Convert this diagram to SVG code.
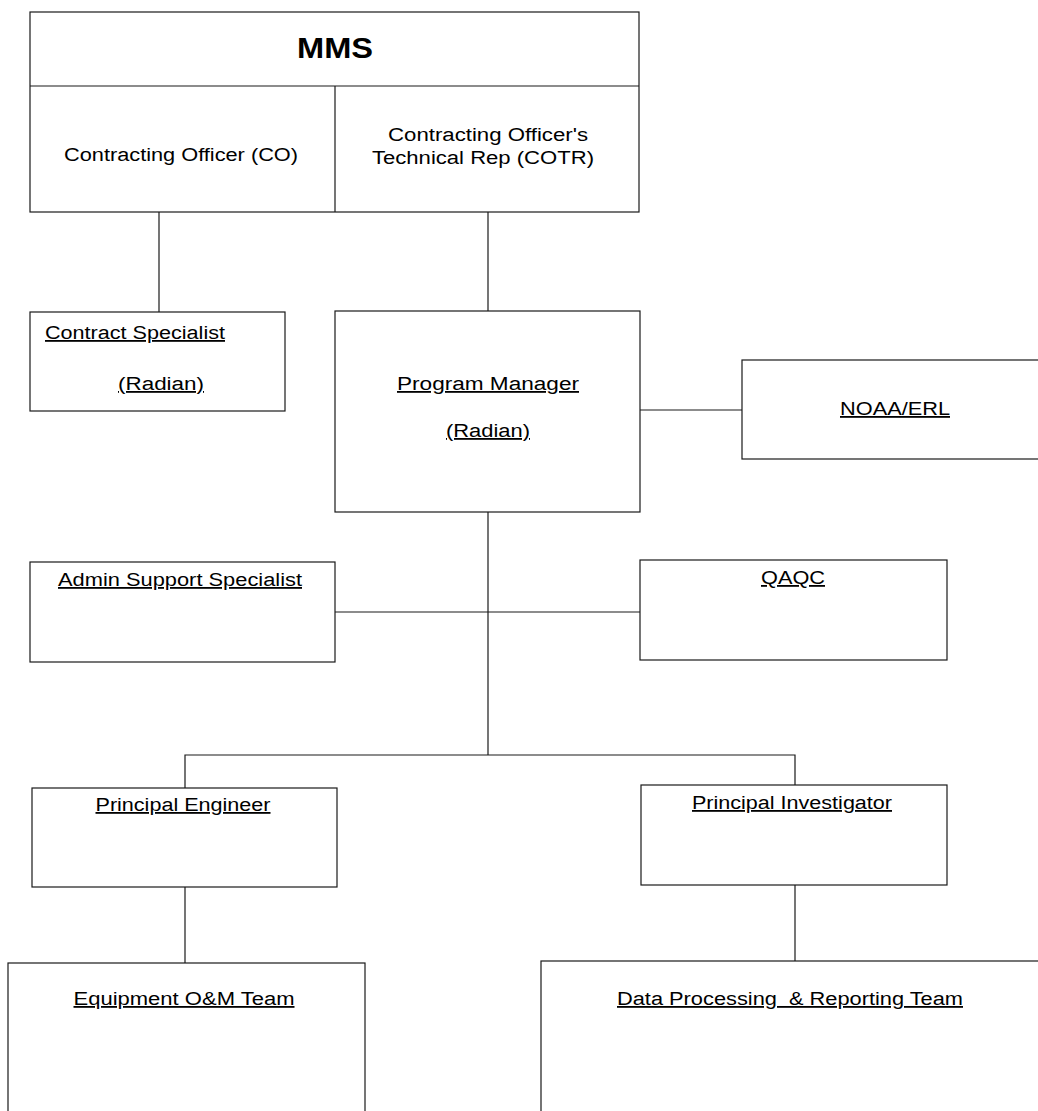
<svg xmlns="http://www.w3.org/2000/svg" width="1038" height="1111" viewBox="0 0 1038 1111">
<style>
.box{fill:#fff;stroke:#1a1a1a;stroke-width:1.2}
.ln{stroke:#1a1a1a;stroke-width:1.2;fill:none}
.t{font-family:"Liberation Sans",Arial,sans-serif;font-size:18px;fill:#000;text-anchor:middle}
.u{text-decoration:underline}
.big{font-family:"Liberation Sans",Arial,sans-serif;font-size:30px;font-weight:bold;fill:#000;text-anchor:middle}
</style>
<rect width="1038" height="1111" fill="#fff"/>
<g id="connectors">
<line class="ln" x1="159" y1="212" x2="159" y2="312"/>
<line class="ln" x1="488" y1="212" x2="488" y2="311"/>
<line class="ln" x1="640" y1="410" x2="742" y2="410"/>
<line class="ln" x1="488" y1="512" x2="488" y2="755"/>
<line class="ln" x1="335" y1="612" x2="640" y2="612"/>
<polyline class="ln" points="185,788 185,755 795,755 795,785"/>
<line class="ln" x1="185" y1="887" x2="185" y2="963"/>
<line class="ln" x1="795" y1="885" x2="795" y2="961"/>
</g>
<g id="mms">
<rect class="box" x="30" y="12" width="609" height="200"/>
<line class="ln" x1="30" y1="86" x2="639" y2="86"/>
<line class="ln" x1="335" y1="86" x2="335" y2="212"/>
<text class="big" x="335" y="58" textLength="76" lengthAdjust="spacingAndGlyphs">MMS</text>
</g>
<g id="co">
<text class="t" x="181" y="161" textLength="234" lengthAdjust="spacingAndGlyphs">Contracting Officer (CO)</text>
</g>
<g id="cotr">
<text class="t" x="488" y="141" textLength="200" lengthAdjust="spacingAndGlyphs">Contracting Officer's</text>
<text class="t" x="483" y="164" textLength="222" lengthAdjust="spacingAndGlyphs">Technical Rep (COTR)</text>
</g>
<g id="contract-specialist">
<rect class="box" x="30" y="312" width="255" height="99"/>
<text class="t u" x="135" y="339" textLength="180" lengthAdjust="spacingAndGlyphs">Contract Specialist</text>
<text class="t u" x="161" y="390" textLength="86" lengthAdjust="spacingAndGlyphs">(Radian)</text>
</g>
<g id="program-manager">
<rect class="box" x="335" y="311" width="305" height="201"/>
<text class="t u" x="488" y="390" textLength="182" lengthAdjust="spacingAndGlyphs">Program Manager</text>
<text class="t u" x="488" y="437" textLength="84" lengthAdjust="spacingAndGlyphs">(Radian)</text>
</g>
<g id="noaa">
<rect class="box" x="742" y="360" width="310" height="99"/>
<text class="t u" x="895" y="415" textLength="110" lengthAdjust="spacingAndGlyphs">NOAA/ERL</text>
</g>
<g id="admin">
<rect class="box" x="30" y="562" width="305" height="100"/>
<text class="t u" x="180" y="586" textLength="244" lengthAdjust="spacingAndGlyphs">Admin Support Specialist</text>
</g>
<g id="qaqc">
<rect class="box" x="640" y="560" width="307" height="100"/>
<text class="t u" x="793" y="584" textLength="64" lengthAdjust="spacingAndGlyphs">QAQC</text>
</g>
<g id="principal-engineer">
<rect class="box" x="32" y="788" width="305" height="99"/>
<text class="t u" x="183" y="811" textLength="175" lengthAdjust="spacingAndGlyphs">Principal Engineer</text>
</g>
<g id="principal-investigator">
<rect class="box" x="641" y="785" width="306" height="100"/>
<text class="t u" x="792" y="809" textLength="200" lengthAdjust="spacingAndGlyphs">Principal Investigator</text>
</g>
<g id="equipment">
<rect class="box" x="8" y="963" width="357" height="160"/>
<text class="t u" x="184" y="1005" textLength="221" lengthAdjust="spacingAndGlyphs">Equipment O&amp;M Team</text>
</g>
<g id="data-processing">
<rect class="box" x="541" y="961" width="510" height="160"/>
<text class="t u" x="790" y="1005" textLength="346" lengthAdjust="spacingAndGlyphs" xml:space="preserve">Data Processing  &amp; Reporting Team</text>
</g>
</svg>
